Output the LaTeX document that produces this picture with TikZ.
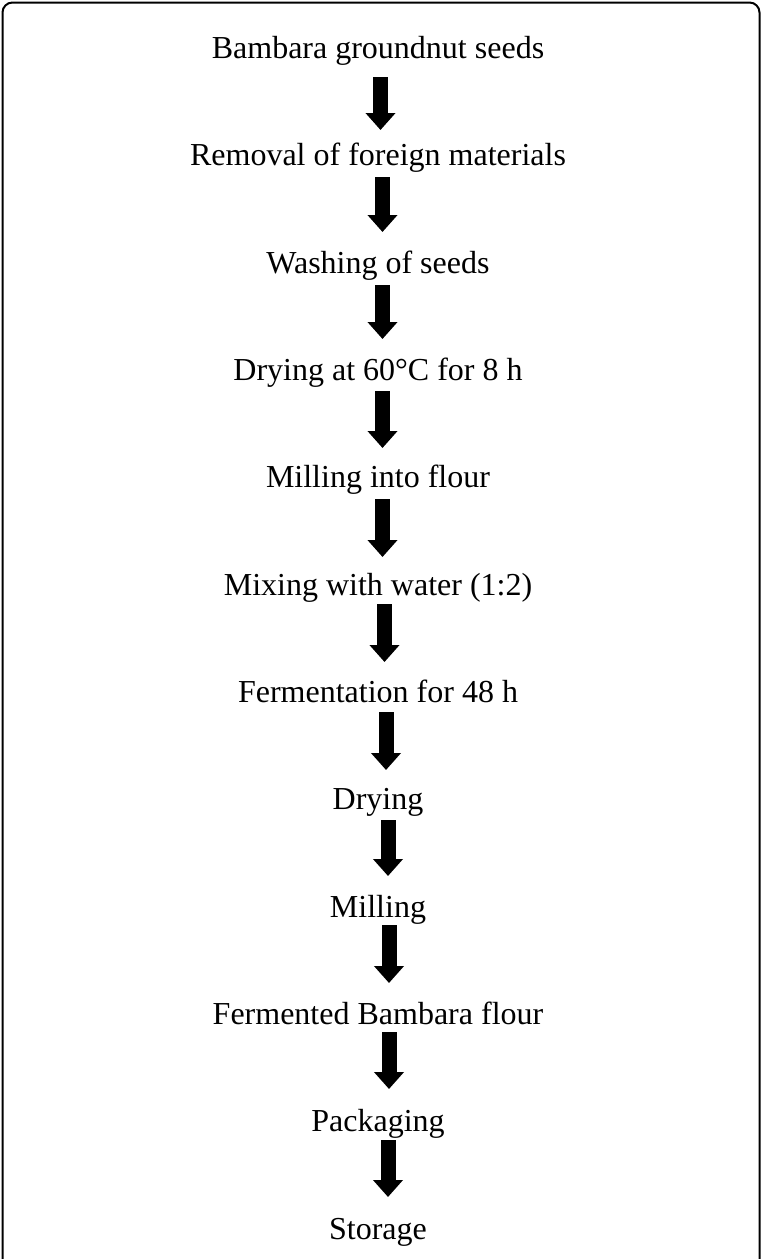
\documentclass[tikz,border=0pt]{standalone}
\usepackage{fontspec}
\setmainfont{Liberation Serif}
\usetikzlibrary{arrows.meta}
\tikzset{
  stepbox/.style={anchor=base, inner sep=0pt, font=\fontsize{32pt}{38pt}\selectfont},
  bigarrow/.style={line width=15pt, -{Triangle[length=17pt, width=29pt]}},
  frame/.style={line width=2pt, rounded corners=10pt}
}
\begin{document}
\begin{tikzpicture}[x=1pt, y=-1pt]
\useasboundingbox (0,0) rectangle (762,1259);
\draw[frame] (2.5,1275) -- (2.5,2.5) -- (759.5,2.5) -- (759.5,1275);
\node[stepbox] (n1) at (378,58.4) {Bambara groundnut seeds};
\node[stepbox] (n2) at (378,165.7) {Removal of foreign materials};
\node[stepbox] (n3) at (378,273) {Washing of seeds};
\node[stepbox] (n4) at (378,380.5) {Drying at 60°C for 8 h};
\node[stepbox] (n5) at (378,487.6) {Milling into flour};
\node[stepbox] (n6) at (378,595) {Mixing with water (1:2)};
\node[stepbox] (n7) at (378,702) {Fermentation for 48 h};
\node[stepbox] (n8) at (378,809.5) {Drying};
\node[stepbox] (n9) at (378,917) {Milling};
\node[stepbox] (n10) at (378,1024) {Fermented Bambara flour};
\node[stepbox] (n11) at (378,1131.7) {Packaging};
\node[stepbox] (n12) at (378,1239) {Storage};
\draw[bigarrow] ([xshift=2.5pt,yshift=-18.6pt]n1.base) -- ([xshift=2.5pt,yshift=35.7pt]n2.base);
\draw[bigarrow] ([xshift=4.5pt,yshift=-11.3pt]n2.base) -- ([xshift=4.5pt,yshift=41pt]n3.base);
\draw[bigarrow] ([xshift=4.5pt,yshift=-12pt]n3.base) -- ([xshift=4.5pt,yshift=41.5pt]n4.base);
\draw[bigarrow] ([xshift=4.5pt,yshift=-10.5pt]n4.base) -- ([xshift=4.5pt,yshift=39.6pt]n5.base);
\draw[bigarrow] ([xshift=4.5pt,yshift=-11.4pt]n5.base) -- ([xshift=4.5pt,yshift=38pt]n6.base);
\draw[bigarrow] ([xshift=6.5pt,yshift=-9pt]n6.base) -- ([xshift=6.5pt,yshift=40pt]n7.base);
\draw[bigarrow] ([xshift=8pt,yshift=-10pt]n7.base) -- ([xshift=8pt,yshift=39.5pt]n8.base);
\draw[bigarrow] ([xshift=10pt,yshift=-10.5pt]n8.base) -- ([xshift=10pt,yshift=41pt]n9.base);
\draw[bigarrow] ([xshift=11pt,yshift=-8pt]n9.base) -- ([xshift=11pt,yshift=41pt]n10.base);
\draw[bigarrow] ([xshift=11pt,yshift=-8pt]n10.base) -- ([xshift=11pt,yshift=42.7pt]n11.base);
\draw[bigarrow] ([xshift=10pt,yshift=-8.3pt]n11.base) -- ([xshift=10pt,yshift=42pt]n12.base);
\end{tikzpicture}
\end{document}
